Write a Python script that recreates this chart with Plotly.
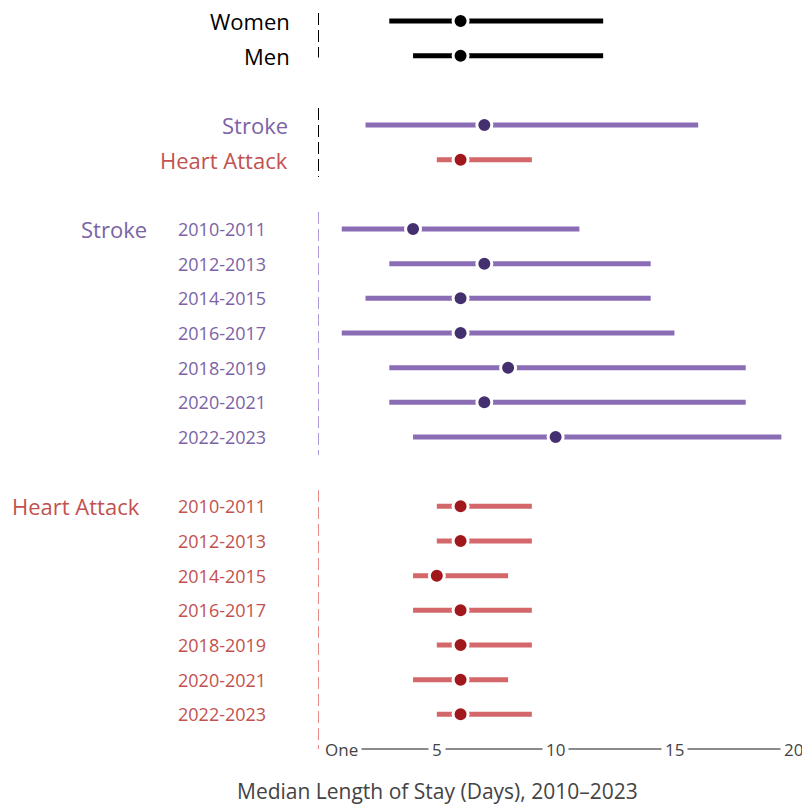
import plotly.graph_objects as go

# ---- data ----
top_labels = ["Women", "Men"]
top_low = [3, 4]
top_med = [6, 6]
top_high = [12, 12]

cond_labels = ["Stroke", "Heart Attack"]
cond_low = [2, 5]
cond_med = [7, 6]
cond_high = [16, 9]

periods = ["2010-2011", "2012-2013", "2014-2015", "2016-2017", "2018-2019", "2020-2021", "2022-2023"]
stroke_low = [1, 3, 2, 1, 3, 3, 4]
stroke_med = [4, 7, 6, 6, 8, 7, 10]
stroke_high = [11, 14, 14, 15, 18, 18, 19.5]

heart_low = [5, 5, 4, 4, 5, 4, 5]
heart_med = [6, 6, 5, 6, 6, 6, 6]
heart_high = [9, 9, 8, 9, 9, 8, 9]

tick_vals = [1, 5, 10, 15, 20]
tick_text = ["One", "5", "10", "15", "20"]
x_title = "Median Length of Stay (Days), 2010–2023"

# ---- style ----
FONT = "Open Sans"
BLACK = "#000000"
P_LINE, P_DOT, P_TXT, P_DASH = "#8A6DB5", "#45306F", "#7B63A6", "#B09BDA"
R_LINE, R_DOT, R_TXT, R_DASH = "#D3676A", "#A0181C", "#C2514F", "#E68A8A"

W, H = 802, 806
L, R = 318, 4
XMAX = 20.2


def paper_x(px):
    return (px - L) / (W - L - R)


fig = go.Figure()

rows_top = [0, 1]
rows_cond = [3, 4]
rows_stroke = list(range(6, 13))
rows_heart = list(range(14, 21))


def add_group(rows, lows, meds, highs, line_colors, dot_colors):
    for r, lo, me, hi, lc, dc in zip(rows, lows, meds, highs, line_colors, dot_colors):
        fig.add_trace(go.Scatter(x=[lo, hi], y=[r, r], mode="lines",
                                 line=dict(color=lc, width=5), hoverinfo="skip",
                                 showlegend=False))
        fig.add_trace(go.Scatter(x=[me], y=[r], mode="markers",
                                 marker=dict(color=dc, size=15,
                                             line=dict(color="white", width=3)),
                                 showlegend=False))


add_group(rows_top, top_low, top_med, top_high, [BLACK] * 2, [BLACK] * 2)
add_group(rows_cond, cond_low, cond_med, cond_high, [P_LINE, R_LINE], [P_DOT, R_DOT])
add_group(rows_stroke, stroke_low, stroke_med, stroke_high, [P_LINE] * 7, [P_DOT] * 7)
add_group(rows_heart, heart_low, heart_med, heart_high, [R_LINE] * 7, [R_DOT] * 7)

# dashed separators at x = 0
for y0, y1, col in [(-0.23, 1.05, BLACK), (2.51, 4.5, BLACK),
                    (5.51, 12.52, P_DASH), (13.53, 21.0, R_DASH)]:
    fig.add_shape(type="line", x0=0, x1=0, y0=y0, y1=y1, xref="x", yref="y",
                  line=dict(color=col, width=2, dash="12px,5px"))

ann = []
# row labels
for r, t in zip(rows_top, top_labels):
    ann.append(dict(x=paper_x(292), y=r, text=t, xanchor="right", font=dict(size=22, color=BLACK)))
for r, t, c in zip(rows_cond, cond_labels, [P_TXT, R_TXT]):
    ann.append(dict(x=paper_x(290), y=r, text=t, xanchor="right", font=dict(size=22, color=c)))
for r, t in zip(rows_stroke, periods):
    ann.append(dict(x=paper_x(268), y=r, text=t, xanchor="right", font=dict(size=18, color=P_TXT)))
for r, t in zip(rows_heart, periods):
    ann.append(dict(x=paper_x(268), y=r, text=t, xanchor="right", font=dict(size=18, color=R_TXT)))
ann.append(dict(x=paper_x(149), y=rows_stroke[0], text="Stroke", xanchor="right",
                font=dict(size=22, color=P_TXT)))
ann.append(dict(x=paper_x(142), y=rows_heart[0], text="Heart Attack", xanchor="right",
                font=dict(size=22, color=R_TXT)))

# x axis line with labelled ticks
AXIS_ROW = 21
fig.add_shape(type="line", x0=tick_vals[0], x1=tick_vals[-1], y0=AXIS_ROW, y1=AXIS_ROW,
              xref="x", yref="y", line=dict(color="#8a8a8a", width=2))
for v, t in zip(tick_vals, tick_text):
    ann.append(dict(x=v, y=AXIS_ROW, xref="x", text=t, xanchor="center", bgcolor="white",
                    borderpad=3, font=dict(size=17, color="#444444")))
ann.append(dict(x=paper_x(437), y=22.2, text=x_title, xanchor="center",
                font=dict(size=21, color="#444444")))

for a in ann:
    a.setdefault("xref", "paper")
    a["yref"] = "y"
    a["showarrow"] = False
    a["yanchor"] = "middle"
    a["font"]["family"] = FONT
fig.update_layout(annotations=ann)

r_top = -21 / ((749 - 21) / 21)
r_bot = r_top + H / ((749 - 21) / 21)
fig.update_layout(
    width=W, height=H,
    margin=dict(l=L, r=R, t=0, b=0),
    paper_bgcolor="white", plot_bgcolor="white",
    xaxis=dict(range=[0, XMAX], visible=False),
    yaxis=dict(range=[r_bot, r_top], visible=False),
    font=dict(family=FONT),
    hovermode=False,
)

fig.write_html("out.html", config={"displayModeBar": False},
               post_script="document.body.style.margin='0';document.body.style.overflow='hidden';")
